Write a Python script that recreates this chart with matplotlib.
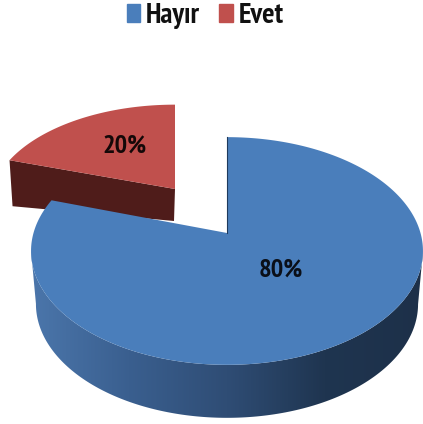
import numpy as np
import matplotlib
matplotlib.use("Agg")
import matplotlib.pyplot as plt
from matplotlib.colors import LinearSegmentedColormap
from matplotlib.patches import Patch, Polygon

labels = ["Hayır", "Evet"]
values = [80, 20]
colors = ["#4a7ebb", "#c0504d"]

plt.rcParams['font.family'] = ['PT Sans Narrow', 'Liberation Sans', 'DejaVu Sans']

fig = plt.figure(figsize=(4.23, 4.24), dpi=100)
ax = fig.add_axes([0, 0, 1, 1])

# perspective disc: circle coords go through a projective map
cx, cy = 227, 233
rx, ry = 193.5, 111
k = 0.158


def project(u, v):
    d = 1 + k * v
    return cx + rx * u / d, cy - ry * v / d


# wedges run clockwise from 12 o'clock
shares = np.array(values) / sum(values)
ends = np.cumsum(shares) * 2 * np.pi
starts = ends - shares * 2 * np.pi

# blue wedge
th = np.linspace(starts[0], ends[0], 300)
X, Y = project(np.sin(th), np.cos(th))

# blue side, gradient image clipped to the band under the rim
side = LinearSegmentedColormap.from_list("side", ["#4b76ab", "#3a5f8f", "#2f4d75", "#1f3550", "#1d3049"])
depth = 53
shrink = 0.975
Xb = cx + (X - cx) * shrink
Yb = Y + depth
ir, il = X.argmax(), X.argmin()
im = ax.imshow(np.linspace(0, 1, 256).reshape(1, -1), cmap=side, aspect="auto",
               extent=(X.min(), X.max(), 424, 200), zorder=3)
band = Polygon(np.c_[np.r_[X[ir:il + 1], Xb[ir:il + 1][::-1]], np.r_[Y[ir:il + 1], Yb[ir:il + 1][::-1]]],
               transform=ax.transData, fc="none", ec="none")
ax.add_patch(band)
im.set_clip_path(band)

# red wedge, pulled out and drawn a bit smaller since it sits further back
ax0, ay0 = 175, 189
sx, sy = 0.943, 0.88
th2 = np.linspace(starts[1], ends[1], 80)
X2, Y2 = project(np.sin(th2), np.cos(th2))
X2 = ax0 + sx * (X2 - cx)
Y2 = ay0 + sy * (Y2 - cy)
ax.fill(np.r_[ax0, X2], np.r_[ay0, Y2], color=colors[1], lw=0, zorder=2)
# its cut face
ax.fill([X2[0], ax0, ax0 - 1, X2[0] + 3], [Y2[0], ay0, ay0 + 32, Y2[0] + 46],
        color="#4f1c1a", lw=0, zorder=1)

# blue top goes over everything
ax.fill(np.r_[cx, X], np.r_[cy, Y], color=colors[0], lw=0, zorder=4)
ax.plot([X[0], cx], [Y[0], cy], color="#1f3a5c", lw=0.8, zorder=5)

ax.text(281, 270, f"{values[0]}%", fontsize=19, fontweight="bold", ha="center", va="center", color="#0a0f18", zorder=6)
ax.text(125, 146, f"{values[1]}%", fontsize=19, fontweight="bold", ha="center", va="center", color="#140808", zorder=6)

handles = [Patch(color=c, label=l) for c, l in zip(colors, labels)]
leg = ax.legend(handles=handles, loc="upper center", bbox_to_anchor=(0.485, 1.04), ncol=2, frameon=False,
                prop={"size": 21, "weight": "bold"}, labelcolor="#111111",
                handlelength=0.47, handleheight=0.55, handletextpad=0.2, columnspacing=0.65, borderpad=0.2)

ax.set_xlim(0, 423)
ax.set_ylim(424, 0)
ax.axis("off")

fig.savefig("out.png", dpi=100)
